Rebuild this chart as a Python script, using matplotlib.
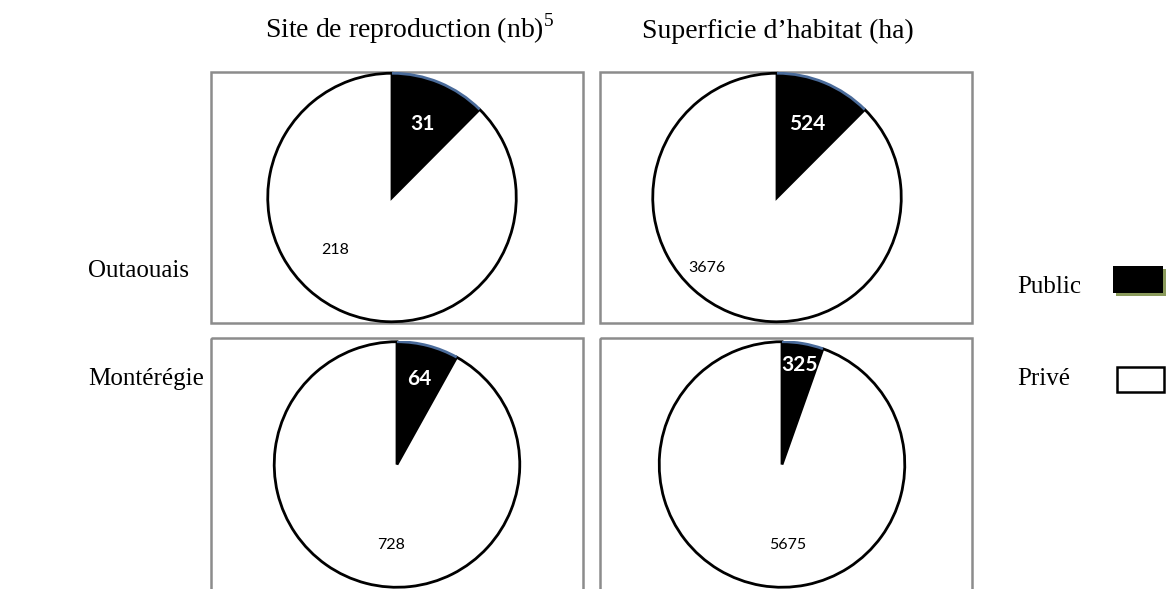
import matplotlib
matplotlib.use("Agg")
import matplotlib.pyplot as plt
from matplotlib.patches import Rectangle, Arc
import numpy as np

plt.rcParams['mathtext.fontset'] = 'custom'
plt.rcParams['mathtext.rm'] = 'Liberation Serif'

# ---- data ----
regions = ["Outaouais", "Montérégie"]
columns = ["Site de reproduction (nb)$^{5}$", "Superficie d’habitat (ha)"]
categories = ["Public", "Privé"]
public_values = [[31, 524], [64, 325]]
prive_values = [[218, 3676], [728, 5675]]

W, H = 1166, 589
fig = plt.figure(figsize=(W / 100, H / 100), dpi=100)

# overlay axes in pixel coords
bg = fig.add_axes([0, 0, 1, 1], zorder=0)
bg.set_xlim(0, W)
bg.set_ylim(H, 0)
bg.axis("off")

serif = "Liberation Serif"
sans = "Lato"

box_x = [(211, 583), (600, 972)]
box_y = [(72, 323), (338, 640)]
for (y0, y1) in box_y:
    for (x0, x1) in box_x:
        bg.add_patch(Rectangle((x0, y0), x1 - x0, y1 - y0, fill=False,
                               edgecolor="#8c8c8c", lw=1.8, clip_on=False))

# pie centers/radii in pixels
centers = [[(392, 197.5), (777, 197.5)], [(397, 464.5), (782, 464.5)]]
radius = [125.5, 124]
# label placement (radius fraction, extra rotation in degrees, + = toward clockwise)
pub_lab = [[(0.64, 0), (0.64, 0)], [(0.72, 0), (0.82, 0)]]
prv_lab = [[(0.62, 25), (0.8, 22)], [(0.66, -10), (0.66, -14)]]

for i in range(2):
    for j in range(2):
        cx, cy = centers[i][j]
        r = radius[i]
        ax = fig.add_axes([(cx - r) / W, 1 - (cy + r) / H, 2 * r / W, 2 * r / H], zorder=2)
        ax.patch.set_alpha(0)
        vals = [public_values[i][j], prive_values[i][j]]
        wedges, _ = ax.pie(vals, colors=["black", "white"], startangle=90,
                           counterclock=False, radius=1,
                           wedgeprops=dict(linewidth=2.0, edgecolor="black"))
        wedges[0].set_linewidth(0)
        wedges[0].set_zorder(3)
        ax.add_patch(Arc((0, 0), 2, 2, theta1=wedges[0].theta1, theta2=wedges[0].theta2,
                         color="#4a6b9a", lw=2.0, zorder=4))
        ax.set_xlim(-1.01, 1.01)
        ax.set_ylim(-1.01, 1.01)
        ax.set_aspect("equal")
        ax.axis("off")
        for k, w in enumerate(wedges):
            d, rot = pub_lab[i][j] if k == 0 else prv_lab[i][j]
            mid = np.deg2rad((w.theta1 + w.theta2) / 2 - rot)
            ax.text(d * np.cos(mid), d * np.sin(mid), str(vals[k]),
                    ha="center", va="center", fontsize=15 if k == 0 else 11.5,
                    fontweight="bold" if k == 0 else "normal",
                    color="white" if k == 0 else "black", family=sans, zorder=5)

# column titles
bg.text(265, 38, columns[0], fontsize=20, family=serif, ha="left", va="baseline")
bg.text(642, 38, columns[1], fontsize=20, family=serif, ha="left", va="baseline")

# row labels
bg.text(88, 277, regions[0], fontsize=18, family=serif, ha="left", va="baseline")
bg.text(88, 385, regions[1], fontsize=18, family=serif, ha="left", va="baseline")

# legend
bg.text(1017, 293, categories[0], fontsize=18, family=serif, ha="left", va="baseline")
bg.text(1017, 385, categories[1], fontsize=18, family=serif, ha="left", va="baseline")
bg.add_patch(Rectangle((1116, 269), 50, 27, facecolor="#8a9a5b", edgecolor="none", clip_on=False))
bg.add_patch(Rectangle((1113, 266), 50, 27, facecolor="black", edgecolor="none", clip_on=False))
bg.add_patch(Rectangle((1117, 367), 47, 25, facecolor="white", edgecolor="black", lw=1.8, clip_on=False))

fig.savefig("out.png", dpi=100)
